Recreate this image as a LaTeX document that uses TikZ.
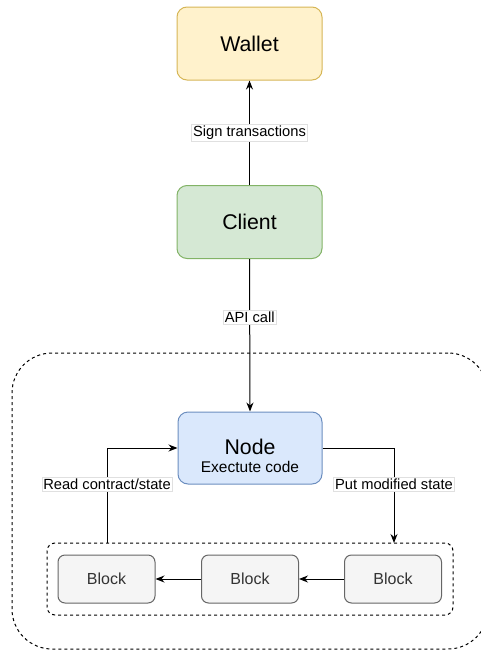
\documentclass[tikz,border=0pt]{standalone}
\usepackage{fontspec}
\setmainfont{Liberation Sans}
\usetikzlibrary{arrows.meta}
\definecolor{walletfill}{HTML}{FFF2CC}
\definecolor{walletline}{HTML}{D6B656}
\definecolor{clientfill}{HTML}{D5E8D4}
\definecolor{clientline}{HTML}{82B366}
\definecolor{nodefill}{HTML}{DAE8FC}
\definecolor{nodeline}{HTML}{6C8EBF}
\definecolor{blockfill}{HTML}{F5F5F5}
\definecolor{blockline}{HTML}{666666}
\definecolor{blocktext}{HTML}{333333}
\tikzset{
  box/.style={rectangle, rounded corners=10pt, line width=1pt, inner sep=0pt},
  bigbox/.style={box, minimum width=145pt, minimum height=73pt, font=\fontsize{21.3}{25}\selectfont},
  blockbox/.style={box, rounded corners=7pt, draw=blockline, fill=blockfill, text=blocktext,
    minimum width=97pt, minimum height=48pt, font=\fontsize{16}{19}\selectfont},
  group/.style={rectangle, draw, dashed, dash pattern=on 3pt off 3pt, line width=1pt, inner sep=0pt},
  conn/.style={line width=1pt, -{Stealth[length=9pt, width=7pt]}},
  tag/.style={fill=white, draw=black!12, line width=0.5pt, inner sep=1.5pt,
    font=\fontsize{14.7}{17}\selectfont},
}
\begin{document}
\begin{tikzpicture}[x=1pt, y=-1pt]
  \useasboundingbox (0,0) rectangle (480,651);

  % dashed enclosures
  \node[group, rounded corners=40pt, minimum width=476pt, minimum height=296pt] (net) at (250,501) {};
  \node[group, rounded corners=8pt, minimum width=406pt, minimum height=72pt] (chain) at (250,579) {};

  % main parties
  \node[bigbox, draw=walletline, fill=walletfill] (wallet) at (249.5,43.5) {Wallet};
  \node[bigbox, draw=clientline, fill=clientfill] (client) at (249.5,222) {Client};
  \node[bigbox, draw=nodeline, fill=nodefill, minimum width=144pt, minimum height=72pt] (node) at (250,448) {};
  \node[inner sep=0pt, font=\fontsize{21.3}{25}\selectfont] (nodetitle) at (250,447) {Node};
  \node[inner sep=0pt, font=\fontsize{15.5}{18}\selectfont] (nodesub) at (250,467) {Exectute code};

  % chain of blocks
  \node[blockbox] (b1) at (106.5,579) {Block};
  \node[blockbox] (b2) at (250,579) {Block};
  \node[blockbox] (b3) at (393,579) {Block};

  \coordinate (readfrom) at (107,543);
  \coordinate (putto) at (394,543);

  % connectors
  \draw[conn] (client.north) -- node[tag] (signlbl) {Sign transactions} (wallet.south);
  \draw[conn] (client.south) -- node[tag, pos=0.38] (apilbl) {API call} (node.north);
  \draw[conn] (readfrom) -- node[tag, pos=0.62] (readlbl) {Read contract/state} (readfrom |- node.west) -- (node.west);
  \draw[conn] (node.east) -- (node.east -| putto) -- node[tag, pos=0.38] (putlbl) {Put modified state} (putto);
  \draw[conn] (b3.west) -- (b2.east);
  \draw[conn] (b2.west) -- (b1.east);
\end{tikzpicture}
\end{document}
